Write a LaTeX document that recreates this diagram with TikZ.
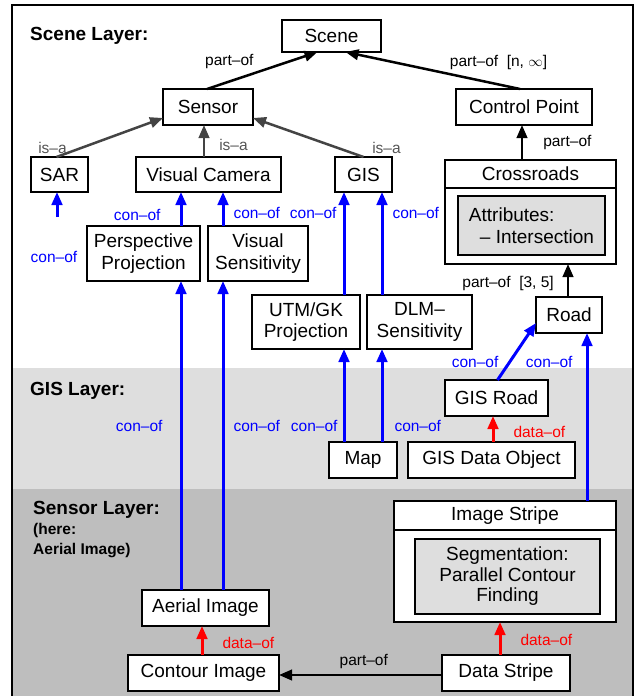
\documentclass[tikz,border=0pt]{standalone}
\usepackage{fontspec}
\setmainfont{Liberation Sans}
\usepackage{tikz}
\usetikzlibrary{arrows.meta, positioning, calc}

\definecolor{gisgray}{HTML}{DEDEDE}
\definecolor{sensorgray}{HTML}{BEBEBE}
\definecolor{isagray}{HTML}{444444}
\definecolor{isatext}{HTML}{555555}

\begin{document}
\begin{tikzpicture}[
  x=1pt, y=-1pt,
  box/.style={draw, line width=2pt, fill=white, inner sep=0pt, outer sep=0pt, align=center, font=\fontsize{19}{21.5}\selectfont},
  attrbox/.style={box, fill=gisgray},
  lab/.style={inner sep=2pt, font=\fontsize{15.5}{18}\selectfont},
  conlab/.style={lab, text=blue},
  datalab/.style={lab, text=red},
  isalab/.style={lab, text=isatext},
  layer/.style={anchor=base west, inner sep=0pt, font=\bfseries\fontsize{19}{21}\selectfont},
  partof/.style={-{Triangle[length=13pt, width=10.5pt]}, line width=2.5pt},
  isa/.style={partof, draw=isagray},
  conof/.style={partof, line width=3pt, draw=blue},
  dataof/.style={partof, line width=3pt, draw=red}
]
\useasboundingbox (0,0) rectangle (636,696);

% Layers
\fill[gisgray] (12,368) rectangle (633,489);
\fill[sensorgray] (12,489) rectangle (633,700);
\draw[line width=2pt] (12,700) -- (12,5) -- (633,5) -- (633,700);

\node[layer] (scenelayer) at (30,40.5) {Scene Layer:};
\node[layer] (gislayer) at (30,395) {GIS Layer:};
\node[layer] (sensorlayer) at (33,514) {Sensor Layer:};
\node[layer, anchor=north west, align=left, font=\bfseries\fontsize{15.5}{20}\selectfont] (herenote) at (33,523) {(here:\\Aerial Image)};

% Nodes
\node[box, minimum width=99, minimum height=32] (scene) at (331.5,36) {Scene};
\node[box, minimum width=90, minimum height=36] (sensor) at (208,107) {Sensor};
\node[box, minimum width=136, minimum height=36] (cpoint) at (524,107) {Control Point};
\node[box, minimum width=57, minimum height=35] (sar) at (59.5,174.5) {SAR};
\node[box, minimum width=145, minimum height=35] (vcam) at (208.5,174.5) {Visual Camera};
\node[box, minimum width=57, minimum height=35] (gis) at (363.5,174.5) {GIS};

\node[box, minimum width=171, minimum height=28] (crosstitle) at (530.5,174) {Crossroads};
\node[box, minimum width=171, minimum height=76, below=0pt of crosstitle] (crossbody) {};
\node[attrbox, minimum width=147, minimum height=59, align=left] (attr) at (531.5,225.5) {Attributes:\\\hspace*{11pt}– Intersection};

\node[box, minimum width=113, minimum height=55] (persp) at (143.5,253.5) {Perspective\\Projection};
\node[box, minimum width=100, minimum height=55] (vsens) at (258,253.5) {Visual\\Sensitivity};
\node[box, minimum width=108, minimum height=54] (utm) at (306,322) {UTM/GK\\Projection};
\node[box, minimum width=105, minimum height=54] (dlm) at (419.5,322) {DLM–\\Sensitivity};
\node[box, minimum width=66, minimum height=36] (road) at (569,315) {Road};

\node[box, minimum width=103, minimum height=36] (groad) at (496.5,398) {GIS Road};
\node[box, minimum width=68, minimum height=36] (map) at (363,460) {Map};
\node[box, minimum width=167, minimum height=36] (gdo) at (491.5,460) {GIS Data Object};

\node[box, minimum width=222, minimum height=29] (istitle) at (505,515.5) {Image Stripe};
\node[box, minimum width=222, minimum height=92, below=0pt of istitle] (isbody) {};
\node[attrbox, minimum width=185, minimum height=75, font=\fontsize{19}{20.5}\selectfont] (seg) at (507.5,576.5) {Segmentation:\\Parallel Contour\\Finding};

\node[box, minimum width=127, minimum height=36] (aerial) at (205.5,608) {Aerial Image};
\node[box, minimum width=151, minimum height=36] (contour) at (203.5,673) {Contour Image};
\node[box, minimum width=128, minimum height=36] (dstripe) at (506,673) {Data Stripe};

% part-of
\draw[partof] ($(sensor.north)+(-1,0)$) -- ($(scene.south)+(-14,0)$) node[lab, pos=0.45, above left] {part–of};
\draw[partof] ($(cpoint.north)+(-4,0)$) -- ($(scene.south)+(14,0)$) node[lab, pos=0.42, above right] {part–of\ \ [n, $\infty$]};
\draw[partof] ($(crosstitle.north)+(-8.5,0)$) coordinate (c1) -- (c1 |- cpoint.south) node[lab, midway, right=18pt] {part–of};
\draw[partof] ($(road.north)+(-1,0)$) coordinate (r1) -- (r1 |- crossbody.south) node[lab, pos=0.42, left=11pt] {part–of\ \ [3, 5]};
\draw[partof] ($(dstripe.west)+(0,2)$) coordinate (d2) -- (d2 -| contour.east) node[lab, pos=0.48, above=3pt] {part–of};

% is-a
\draw[isa] ($(sar.north)+(-3,0)$) -- ($(sensor.west)+(0,11)$) node[isalab, pos=0, above, xshift=-4pt] {is–a};
\draw[isa] ($(vcam.north)+(-4.5,0)$) coordinate (i1) -- (i1 |- sensor.south) node[isalab, pos=0.38, right=12pt] {is–a};
\draw[isa] (gis.north) -- ($(sensor.east)+(0,11)$) node[isalab, pos=0, above right, xshift=5.5pt] {is–a};

% con-of
\coordinate (sarfree) at ($(sar.south)+(-2.5,25)$);
\draw[conof] (sarfree) -- (sarfree |- sar.south) node[conlab, pos=0, below=31pt, xshift=-3pt] {con–of};
\draw[conof] ($(persp.north)+(37.5,0)$) coordinate (p1) -- (p1 |- vcam.south) node[conlab, pos=0.32, left=17pt] {con–of};
\draw[conof] ($(vsens.north)+(-35,0)$) coordinate (v1) -- (v1 |- vcam.south) node[conlab, pos=0.38, right=7pt] {con–of};
\draw[conof] (p1 |- aerial.north) -- (p1 |- persp.south) node[conlab, pos=0.53, left=15pt] {con–of};
\draw[conof] (v1 |- aerial.north) -- (v1 |- vsens.south) node[conlab, pos=0.53, right=7pt] {con–of};

\draw[conof] ($(map.north)+(-19,0)$) coordinate (m1) -- (m1 |- utm.south) node[conlab, pos=0.17, left=3pt] {con–of};
\draw[conof] ($(map.north)+(19,0)$) coordinate (m2) -- (m2 |- dlm.south) node[conlab, pos=0.17, right=9pt] {con–of};
\draw[conof] (m1 |- utm.north) -- (m1 |- gis.south) node[conlab, pos=0.8, left=4pt] {con–of};
\draw[conof] (m2 |- dlm.north) -- (m2 |- gis.south) node[conlab, pos=0.8, right=7pt] {con–of};

\draw[conof] ($(groad.north)+(1,0)$) -- ($(road.west)+(0,8)$) node[conlab, pos=0.32, left=8pt] {con–of};
\draw[conof] ($(istitle.north)+(82,0)$) coordinate (s1) -- (s1 |- road.south) node[conlab, pos=0.83, left=11pt] {con–of};

% data-of
\draw[dataof] ($(gdo.north)+(1.5,0)$) coordinate (g1) -- (g1 |- groad.south) node[datalab, pos=0.38, right=17pt] {data–of};
\draw[dataof] ($(contour.north)+(-1.5,0)$) coordinate (c2) -- (c2 |- aerial.south) node[datalab, pos=0.41, right=17pt] {data–of};
\draw[dataof] ($(dstripe.north)+(-6,0)$) coordinate (d1) -- (d1 |- isbody.south) node[datalab, pos=0.45, right=17pt] {data–of};

\end{tikzpicture}
\end{document}
